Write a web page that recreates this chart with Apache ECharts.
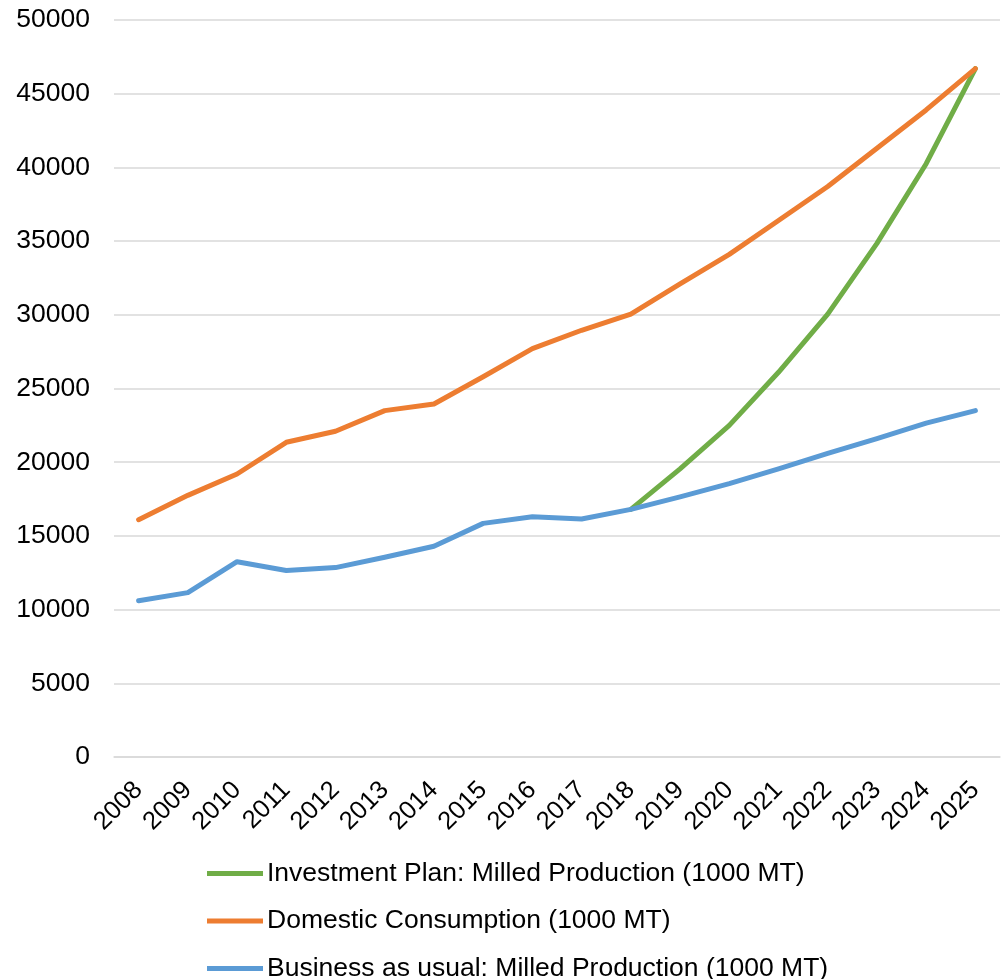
<!DOCTYPE html>
<html>
<head>
<meta charset="utf-8">
<script src="https://cdn.jsdelivr.net/npm/echarts@6/dist/echarts.min.js"></script>
<style>
html,body{margin:0;padding:0;background:#fff;}
#chart{width:1006px;height:979px;}
</style>
</head>
<body>
<div id="chart"></div>
<script>
const years = ['2008','2009','2010','2011','2012','2013','2014','2015','2016','2017','2018','2019','2020','2021','2022','2023','2024','2025'];
const investmentPlan = [null,null,null,null,null,null,null,null,null,null,16800,19550,22500,26100,30050,34850,40250,46700];
const domesticConsumption = [16100,17750,19200,21350,22100,23500,23950,25800,27700,28950,30050,32100,34100,36400,38700,41300,43900,46700];
const businessAsUsual = [10600,11150,13250,12650,12850,13550,14300,15850,16300,16150,16800,17650,18550,19550,20600,21600,22650,23500];
const seriesNames = ['Investment Plan: Milled Production (1000 MT)','Domestic Consumption (1000 MT)','Business as usual: Milled Production (1000 MT)'];
const colors = ['#70AD47','#ED7D31','#5B9BD5'];

const chart = echarts.init(document.getElementById('chart'), null, {renderer:'canvas'});
const font = 'Liberation Sans, Arial, sans-serif';
function mk(name, data, color){
  return {name:name, type:'line', data:data, symbol:'none', smooth:false, connectNulls:false,
    lineStyle:{color:color, width:5, cap:'round', join:'round'}, itemStyle:{color:color}};
}
chart.setOption({
  animation:false,
  backgroundColor:'#ffffff',
  grid:{left:114, right:6, top:20, bottom:222, containLabel:false},
  xAxis:{type:'category', data:years, boundaryGap:true,
    axisLine:{show:true, lineStyle:{color:'#d9d9d9', width:1.5}},
    axisTick:{show:false},
    axisLabel:{rotate:45, fontSize:25.5, color:'#000', fontFamily:font, margin:29, interval:0}},
  yAxis:{type:'value', min:0, max:50000, interval:5000,
    axisLine:{show:false}, axisTick:{show:false},
    splitLine:{lineStyle:{color:'#d9d9d9', width:1.5}},
    axisLabel:{fontSize:26.5, color:'#000', fontFamily:font, margin:24, formatter:function(v){return String(v);}}},
  legend:{orient:'vertical', left:207, top:860, height:300, padding:0, itemWidth:56, itemHeight:14, itemGap:20.5,
    icon:'path://M0,0 L56,0 L56,5 L0,5 Z',
    textStyle:{fontSize:26.5, lineHeight:26, color:'#000', fontFamily:font, padding:[0,0,0,-1]},
    data:seriesNames},
  series:[mk(seriesNames[0], investmentPlan, colors[0]), mk(seriesNames[1], domesticConsumption, colors[1]), mk(seriesNames[2], businessAsUsual, colors[2])]
});
</script>
</body>
</html>
